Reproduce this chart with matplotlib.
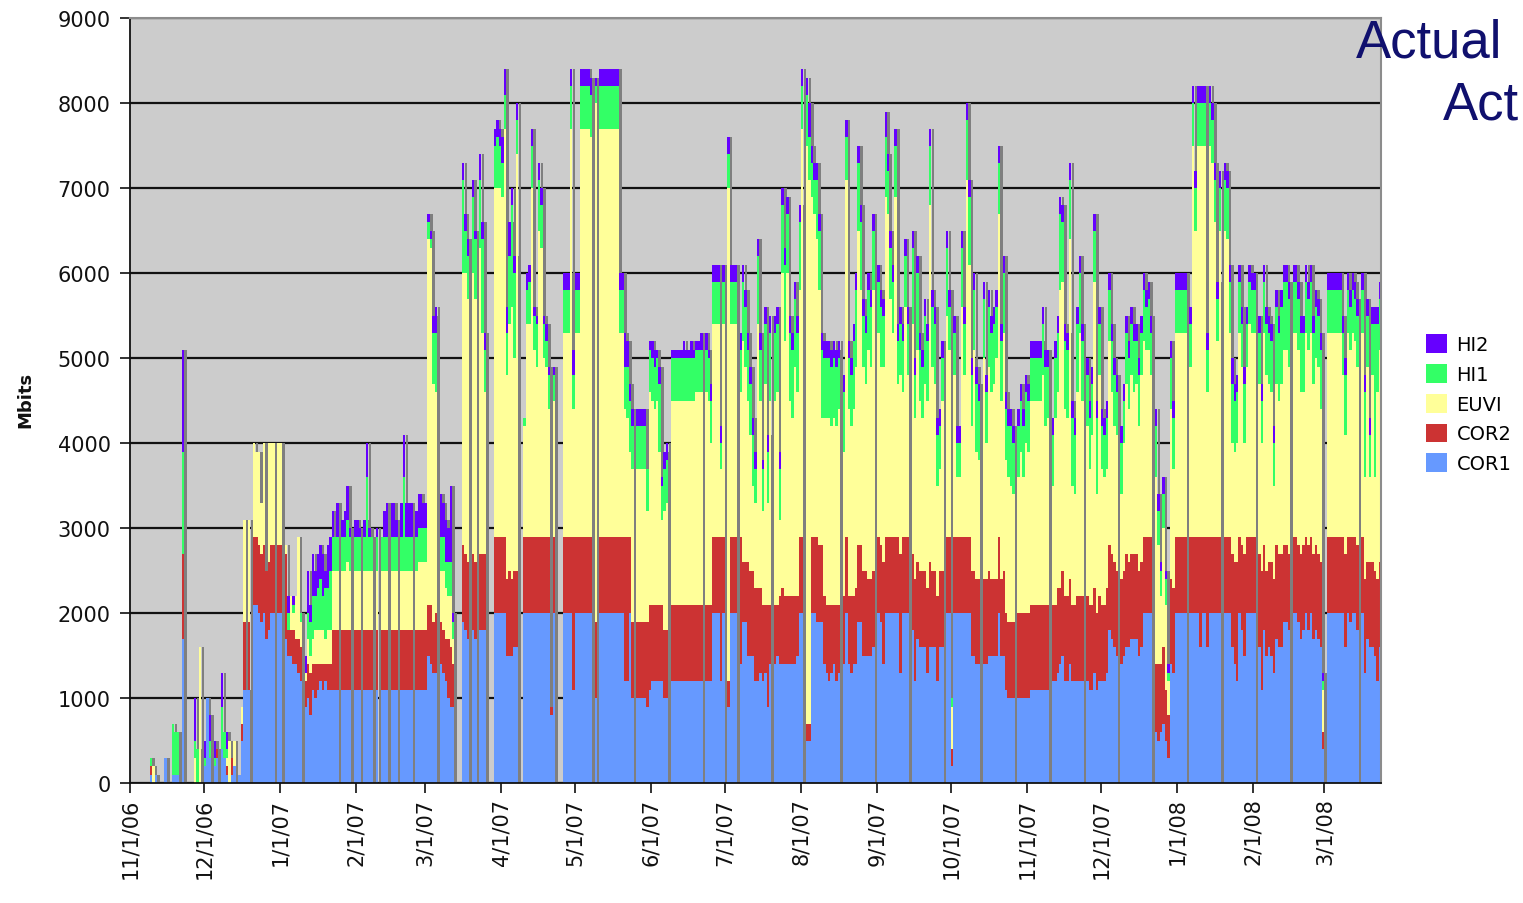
import numpy as np
import pandas as pd
import matplotlib
matplotlib.use('Agg')
import matplotlib.pyplot as plt

# daily data volume per instrument, in hundreds of Mbits, 11/1/06 .. 3/23/08
cor1 = [
    0,0,0,0,0,0,0,0,1,0, 1,0,0,0,3,0,0,1,1,1, 0,17,0,0,0,0,0,0,0,0,              # Nov 06
    2,10,3,0,2,3,0,4,3,1, 0,1,2,0,1,5,11,11,11,0, 21,21,20,19,20,17,18,20,20,0, 20,
    20,0,17,15,15,14,14,13,12,0, 9,10,8,11,10,11,12,11,12,11, 11,11,11,11,0,11,11,11,11,0, 11,
    11,11,0,11,11,11,11,0,11,0, 11,11,11,0,11,11,11,0,11,11, 11,11,11,0,11,11,11,11,
    11,15,14,13,13,0,14,13,12,10, 9,9,0,0,0,19,18,17,0,18, 17,0,18,18,18,0,0,0,20,20, 20,
    20,20,15,15,15,16,16,0,0,20, 20,20,20,20,20,20,20,20,20,20, 8,20,0,0,0,20,20,20,20,11,
    20,20,20,20,20,20,20,0,10,0, 20,20,20,20,20,20,20,20,20,20, 12,12,20,10,0,10,10,10,10,9, 11,
    12,12,12,12,12,10,10,0,12,12, 12,12,12,12,12,12,12,12,12,12, 12,0,12,12,12,20,20,20,12,20,
    0,9,20,20,20,0,14,19,19,15, 15,15,12,12,13,12,13,9,14,0, 14,15,14,14,14,14,14,14,14,15, 20,
    20,0,5,5,20,20,19,19,19,14, 13,12,13,14,12,13,0,14,20,14, 13,14,14,19,19,15,15,15,15,16, 0,
    20,19,14,20,20,20,20,20,20,13, 20,20,20,0,18,12,17,16,16,16, 13,16,16,16,12,16,16,0,20,20,
    2,20,20,20,20,20,20,20,15,15, 14,14,0,14,14,15,15,15,15,20, 15,15,11,10,10,10,0,10,10,10, 10,
    10,11,11,11,11,11,11,11,11,0, 12,12,13,14,15,12,12,14,12,12, 12,12,12,0,12,11,11,13,11,12,
    12,12,13,18,17,16,15,0,14,15, 16,16,17,17,17,15,16,20,20,20, 20,0,6,5,6,7,5,3,14,13, 20,
    20,20,20,20,0,20,20,20,20,16, 20,20,16,20,20,20,20,20,0,20, 20,20,16,14,12,20,18,15,20,20, 20,
    20,0,16,11,18,15,16,15,13,17, 16,16,19,19,18,0,20,20,19,17, 18,20,18,20,17,18,17,16,4,
    0,20,20,20,20,20,20,20,16,20, 19,20,20,18,0,20,13,17,16,16, 15,12,16,          # Mar 08
]
cor2 = [
    0,0,0,0,0,0,0,0,1,0, 0,0,0,0,0,0,0,0,0,0, 0,10,0,0,0,0,0,0,0,0,
    0,0,0,0,0,1,0,0,0,1, 0,2,0,0,0,2,8,0,8,0, 8,8,8,8,8,8,8,8,8,0, 8,
    8,0,10,3,3,4,3,4,4,0, 3,4,5,3,4,3,2,3,2,3, 3,7,7,7,0,7,7,7,7,0, 7,
    7,7,0,7,7,7,7,0,7,0, 7,7,7,0,7,7,7,0,7,7, 7,7,7,0,7,7,7,7,
    7,6,7,6,7,0,5,5,5,7, 7,5,0,0,0,9,9,9,0,9, 9,0,9,9,9,0,0,0,9,9, 9,
    9,9,9,10,9,9,9,0,0,9, 9,9,9,9,9,9,9,9,9,9, 1,9,0,0,0,9,9,9,9,18,
    9,9,9,9,9,9,9,0,9,0, 9,9,9,9,9,9,9,9,9,9, 17,17,9,9,0,9,9,9,9,10, 10,
    9,9,9,9,9,8,8,0,9,9, 9,9,9,9,9,9,9,9,9,9, 9,0,9,9,9,9,9,9,17,9,
    0,3,9,9,9,0,15,7,7,11, 10,10,11,11,10,9,8,12,7,0, 7,6,8,9,8,8,8,8,8,7, 9,
    9,0,2,2,9,9,10,9,9,8, 8,9,8,7,9,8,0,8,9,8, 9,8,9,9,9,10,10,9,9,9, 0,
    9,9,12,9,9,9,9,9,9,14, 9,9,9,0,9,12,9,9,9,9, 10,10,9,9,10,9,9,0,9,9,
    2,9,9,9,9,9,9,9,10,10, 10,10,0,10,10,10,9,9,9,9, 9,10,9,9,9,9,0,10,10,10, 10,
    10,10,10,10,10,10,10,10,10,0, 9,9,10,9,10,10,10,10,9,9, 10,10,10,0,10,10,10,10,9,10,
    9,9,10,10,10,10,10,0,10,10, 11,10,10,10,10,10,10,9,9,9, 9,0,8,9,8,9,6,5,10,10, 9,
    9,9,9,9,0,9,9,9,9,13, 9,9,13,9,9,9,9,9,0,9, 9,9,11,12,14,9,10,12,9,9, 9,
    9,0,11,14,10,10,10,11,11,11, 11,11,9,9,9,0,9,9,9,10, 10,9,10,9,10,10,10,10,2,
    0,9,9,9,9,9,9,9,11,9, 10,9,9,10,0,9,11,9,10,10, 10,12,10,
]
euvi = [
    0,0,0,0,0,0,0,0,0,2, 0,0,0,0,0,0,0,0,0,0, 0,0,0,0,0,0,3,0,16,0,
    0,0,0,0,0,0,0,0,0,1, 5,0,3,0,0,2,12,0,12,0, 11,10,11,6,12,0,14,12,12,0, 12,
    12,0,1,0,4,2,5,12,3,0, 1,3,2,3,4,4,4,4,3,4, 4,7,7,7,0,7,7,8,7,0, 7,
    7,7,0,7,7,7,7,0,7,0, 7,7,7,0,7,7,7,0,7,7, 7,7,7,0,7,8,8,8,
    8,43,42,28,26,0,6,7,6,5, 6,3,0,0,0,32,33,31,0,33, 31,0,36,26,19,0,0,0,41,41, 41,
    40,48,24,29,32,25,49,0,0,13, 25,25,41,22,20,36,34,21,20,15, 0,16,0,0,0,24,24,24,48,15,
    24,24,48,48,48,48,47,0,61,0, 48,48,48,48,48,48,48,48,24,24, 15,14,10,18,0,18,18,18,18,13, 25,
    24,23,24,18,10,14,15,0,24,24, 24,24,24,24,24,24,24,24,25,25, 25,0,25,24,19,25,25,25,8,25,
    0,58,25,25,25,0,17,26,23,19, 16,10,10,31,22,11,26,12,24,0, 24,25,9,37,30,38,23,21,27,24, 29,
    48,0,68,64,40,38,35,30,15,21, 22,22,21,22,21,23,0,17,42,22, 20,22,26,37,30,24,22,27,25,33, 0,
    24,21,23,40,38,28,24,40,18,21, 17,27,19,0,27,19,25,20,18,22, 22,42,24,22,13,12,20,0,26,22,
    5,19,7,7,27,19,42,32,17,26, 15,14,0,26,16,24,22,23,26,38, 21,28,18,17,16,15,0,16,19,16, 20,
    19,24,24,24,24,24,27,21,22,0, 14,22,23,35,34,22,21,40,14,13, 24,31,23,0,20,16,20,36,14,26,
    16,15,14,24,19,16,16,0,10,15, 20,18,21,19,20,17,22,23,22,22, 19,0,22,14,8,14,10,4,20,14, 24,
    24,24,24,24,0,20,46,36,46,46, 46,46,17,46,44,37,23,36,0,36, 35,24,13,13,14,24,21,13,20,25, 24,
    24,0,20,15,25,23,21,20,11,19, 18,20,23,23,22,0,24,24,23,19, 18,24,23,24,20,22,22,18,5,
    0,24,24,24,24,24,24,19,14,24, 22,24,23,21,0,24,12,23,10,22, 11,22,25,
]
hi1 = [
    0,0,0,0,0,0,0,0,1,0, 0,0,0,0,0,0,0,6,5,5, 0,12,0,0,0,0,2,4,0,0,
    1,0,2,0,1,0,0,5,3,1, 0,0,0,0,0,0,0,0,0,0, 0,0,0,0,0,0,0,0,0,0, 0,
    0,0,0,2,0,1,0,0,1,0, 0,3,4,5,4,5,6,4,6,5, 7,4,4,4,0,4,4,5,4,0, 4,
    4,4,0,4,11,4,4,0,4,0, 4,4,4,0,4,4,4,0,4,11, 4,4,4,0,4,4,4,4,
    4,2,1,6,7,0,4,4,3,4, 4,2,0,0,0,11,5,5,0,9, 7,0,8,11,5,0,0,0,5,6, 5,
    4,4,5,8,12,10,4,0,0,1, 4,5,5,4,5,6,5,4,3,4, 0,3,0,0,0,5,5,5,5,4,
    5,5,5,5,5,5,5,0,2,0, 5,5,5,5,5,5,5,5,5,5, 5,6,6,5,0,5,5,5,5,5, 5,
    5,5,5,8,4,5,5,0,5,5, 5,5,5,5,5,5,5,5,5,5, 5,0,5,5,5,5,5,5,3,5,
    0,4,5,5,5,0,5,7,7,6, 6,6,4,8,6,5,7,6,8,0, 8,8,6,8,9,7,8,8,8,7, 8,
    5,0,6,5,4,4,7,7,8,7, 7,7,7,7,7,6,0,7,5,6, 6,8,9,8,8,6,6,7,7,7, 0,
    6,7,6,7,5,6,6,6,5,6, 6,6,6,0,9,5,9,6,6,8, 7,7,7,7,6,5,5,0,8,5,
    1,5,4,4,7,6,7,8,6,7, 8,7,0,7,6,7,7,7,6,6, 7,7,6,6,7,6,0,6,6,6, 6,
    6,5,5,5,5,5,6,7,6,0, 6,7,7,9,7,8,8,7,8,7, 8,7,7,0,6,6,6,6,9,6,
    5,5,6,6,6,6,5,0,6,5, 6,6,6,6,5,6,5,6,5,6, 5,0,6,4,3,4,3,1,6,6, 5,
    5,5,5,5,0,5,5,5,5,5, 5,5,5,5,5,5,5,5,0,6, 6,6,7,6,6,6,5,7,5,5, 5,
    5,0,6,5,6,6,6,6,5,9, 8,9,8,8,8,0,6,6,6,7, 7,6,6,6,6,6,6,7,1,
    0,5,5,5,5,5,5,5,7,5, 5,5,5,6,0,5,10,6,5,6, 18,8,6,
]
hi2 = [
    0,0,0,0,0,0,0,0,0,0, 0,0,0,0,0,0,0,0,0,0, 0,12,0,0,0,0,5,0,0,0,
    2,0,3,0,2,0,0,4,0,2, 0,0,0,0,0,0,0,0,0,0, 0,0,0,0,0,0,0,0,0,0, 0,
    0,0,0,2,0,1,0,0,0,0, 2,5,2,5,3,4,4,5,2,5, 4,3,0,4,0,2,3,4,1,0, 2,
    2,1,0,2,4,1,0,0,1,0, 0,3,4,0,4,4,2,0,4,5, 4,4,4,0,3,4,4,3,
    3,1,1,2,3,0,5,4,5,4, 9,1,0,0,0,2,2,2,0,2, 1,0,3,2,2,0,0,0,2,2, 2,
    3,3,3,4,2,2,2,0,0,0, 2,2,2,1,1,2,2,1,2,1, 0,1,0,0,0,2,2,2,2,3,
    2,2,2,2,2,2,2,0,1,0, 2,2,2,2,2,2,2,2,2,2, 4,3,2,2,0,2,2,2,2,0, 1,
    2,2,1,2,1,2,2,0,1,1, 1,1,1,2,1,1,2,1,1,1, 2,0,2,1,2,2,2,2,2,2,
    0,2,2,2,2,0,2,2,2,2, 2,2,2,2,2,1,2,2,2,0, 2,2,2,2,2,2,2,2,2,2, 2,
    2,0,2,4,2,2,2,2,2,2, 2,2,2,2,2,2,0,2,2,2, 2,2,2,2,2,2,2,2,2,2, 0,
    2,2,2,3,2,2,2,2,2,2, 2,2,2,0,2,2,2,2,2,2, 2,2,2,2,2,2,2,0,2,2,
    0,2,2,2,2,2,2,2,2,2, 2,2,0,2,2,2,2,2,2,2, 2,2,2,2,2,2,0,2,2,2, 2,
    2,2,2,2,2,2,2,2,2,0, 2,2,2,2,2,2,2,2,2,2, 2,2,2,0,2,2,2,2,2,2,
    2,2,2,2,2,2,2,0,2,2, 2,2,2,2,2,2,2,2,2,2, 2,0,2,2,1,2,1,1,2,2, 2,
    2,2,2,2,0,2,2,2,2,2, 2,2,2,2,2,2,2,2,0,2, 2,2,3,2,2,2,2,2,2,2, 2,
    2,0,2,2,2,2,2,2,2,2, 2,2,2,2,2,0,2,2,2,2, 2,2,2,2,2,2,2,2,1,
    0,2,2,2,2,2,2,2,2,2, 2,2,2,2,0,2,2,2,2,2, 2,2,2,
]

series = ['COR1', 'COR2', 'EUVI', 'HI1', 'HI2']
colors = ['#6699ff', '#cc3333', '#ffff99', '#33ff66', '#6600ff']
month_labels = ['11/1/06', '12/1/06', '1/1/07', '2/1/07', '3/1/07', '4/1/07', '5/1/07',
                '6/1/07', '7/1/07', '8/1/07', '9/1/07', '10/1/07', '11/1/07', '12/1/07',
                '1/1/08', '2/1/08', '3/1/08']

data = np.array([cor1, cor2, euvi, hi1, hi2], dtype=float) * 100
days = pd.date_range('2006-11-01', periods=data.shape[1], freq='D')
total = data.sum(axis=0)

fig = plt.figure(figsize=(15.23, 9.04), dpi=100)
ax = fig.add_axes([130 / 1523, 1 - 784 / 904, 1251 / 1523, 765 / 904])
ax.set_facecolor('#cccccc')

# drop shadow behind each day's stack
ax.bar(days + pd.Timedelta(hours=27), total, width=1, align='edge',
       color='#7f7f7f', linewidth=0, zorder=1)

bottom = np.zeros(len(days))
handles = []
for name, vals, c in zip(series, data, colors):
    h = ax.bar(days, vals, bottom=bottom, width=1, align='edge', color=c,
               linewidth=0, label=name, zorder=2)
    handles.append(h)
    bottom += vals

ax.set_axisbelow(True)
ax.yaxis.grid(True, color='#111111', linewidth=1.6, zorder=0)
ax.set_ylim(0, 9000)
ax.set_yticks(np.arange(0, 9001, 1000))
ax.set_xlim(days[0], days[-1] + pd.Timedelta(days=1))
ticks = pd.to_datetime(month_labels, format='%m/%d/%y')
ax.set_xticks(ticks)
ax.set_xticklabels(month_labels, rotation=90, va='top', ha='center')
ax.tick_params(direction='out', length=7, width=1.2, labelsize=15, colors='#111111')
ax.tick_params(axis='y', pad=7)
for s in ['left', 'bottom']:
    ax.spines[s].set_color('#111111')
    ax.spines[s].set_linewidth(1.3)
for s in ['top', 'right']:
    ax.spines[s].set_color('#8c8c8c')
    ax.spines[s].set_linewidth(1.5)

fig.text(25 / 1523, 1 - 400 / 904, 'Mbits', rotation=90, fontsize=13,
         fontweight='bold', ha='center', va='center', color='#111111')

fig.legend(handles[::-1], series[::-1], loc='upper left',
           bbox_to_anchor=(1408 / 1523, 1 - 318 / 904), frameon=False,
           fontsize=14, handlelength=1.1, handleheight=1.1, handletextpad=0.5,
           labelspacing=0.5)

fig.text(1356 / 1523, 1 - 57 / 904, 'Actual', fontsize=38, color='#10106e',
         family='Liberation Sans', va='baseline')
fig.text(1443 / 1523, 1 - 119 / 904, 'Act', fontsize=38, color='#10106e',
         family='Liberation Sans', va='baseline')

fig.savefig('out.png', dpi=100)
